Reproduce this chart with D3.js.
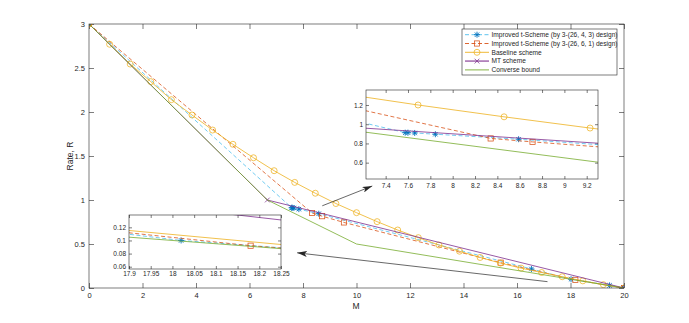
<!DOCTYPE html>
<html>
<head>
<meta charset="utf-8">
<script src="https://cdn.jsdelivr.net/npm/d3@7"></script>
<style>
  body { margin: 0; background: #fff; }
  text { font-family: "Liberation Sans", Arial, sans-serif; fill: #262626; }
</style>
</head>
<body>
<svg id="chart" width="689" height="323"></svg>
<script>
// ---- data ----
const blueM = [0, 7.575, 7.60, 7.66, 7.845, 8.59, 16.54, 18.02, 19.46, 20];
const blueR = [3, 0.912, 0.912, 0.909, 0.896, 0.844, 0.216, 0.100, 0.030, 0];

const orangeM = [0, 8.34, 8.715, 9.53, 15.39, 18.18, 20];
const orangeR = [3, 0.852, 0.816, 0.745, 0.288, 0.092, 0];

const baseM = [0, 0.77, 1.54, 2.31, 3.08, 3.85, 4.62, 5.38, 6.15, 6.92, 7.69, 8.46, 9.23,
               10.0, 10.77, 11.54, 12.31, 13.08, 13.85, 14.62, 15.38, 16.15, 16.92, 17.69,
               18.46, 19.23, 20];
const baseR = [3, 2.77, 2.545, 2.345, 2.14, 1.966, 1.795, 1.633, 1.48, 1.333, 1.20, 1.077, 0.960,
               0.856, 0.754, 0.659, 0.572, 0.489, 0.418, 0.347, 0.283, 0.226, 0.176, 0.128,
               0.081, 0.038, 0];

const mtM = [0, 6.667, 20];
const mtR = [3, 1, 0];

const boundM = [0, 6.667, 10, 20];
const boundR = [3, 1, 0.5, 0];

const legendLabels = [
  "Improved t-Scheme (by 3-(26, 4, 3) design)",
  "Improved t-Scheme (by 3-(26, 6, 1) design)",
  "Baseline scheme",
  "MT scheme",
  "Converse bound"
];

const mainXTicks = [0, 2, 4, 6, 8, 10, 12, 14, 16, 18, 20];
const mainYTicks = [0, 0.5, 1, 1.5, 2, 2.5, 3];
const zoom1XTicks = [7.4, 7.6, 7.8, 8, 8.2, 8.4, 8.6, 8.8, 9, 9.2];
const zoom1YTicks = [0.6, 0.8, 1, 1.2];
const zoom2XTicks = [17.9, 17.95, 18, 18.05, 18.1, 18.15, 18.2, 18.25];
const zoom2YTicks = [0.06, 0.08, 0.1, 0.12];

// arrows, in main-axes data units: [fromM, fromR, toM, toR]
const arrows = [
  [8.72, 0.934, 10.59, 1.159],
  [17.14, 0.072, 7.78, 0.400]
];

// ---- styles ----
const series = [
  {M: blueM, R: blueR, color: "#0072BD", line: "#4DBEEE", dash: "4,2.5", marker: "star"},
  {M: orangeM, R: orangeR, color: "#D95319", line: "#D95319", dash: "4,2.5", marker: "square"},
  {M: baseM, R: baseR, color: "#EDB120", line: "#EDB120", dash: null, marker: "circle"},
  {M: mtM, R: mtR, color: "#7E2F8E", line: "#7E2F8E", dash: null, marker: "x"},
  {M: boundM, R: boundR, color: "#77AC30", line: "#77AC30", dash: null, marker: null}
];

const svg = d3.select("#chart");
svg.append("rect").attr("width", 689).attr("height", 323).attr("fill", "#fff");

const defs = svg.append("defs");
defs.append("marker")
    .attr("id", "arrowhead")
    .attr("viewBox", "0 0 10 6")
    .attr("refX", 10).attr("refY", 3)
    .attr("markerWidth", 10).attr("markerHeight", 6)
    .attr("markerUnits", "userSpaceOnUse")
    .attr("orient", "auto")
  .append("path")
    .attr("d", "M0,0L10,3L0,6L2.5,3Z")
    .attr("fill", "#262626");

function drawMarker(g, type, color, px, py) {
  if (type === "star") {
    g.append("path")
      .attr("d", `M${px-3},${py}H${px+3}M${px},${py-3}V${py+3}` +
                 `M${px-2.2},${py-2.2}L${px+2.2},${py+2.2}M${px-2.2},${py+2.2}L${px+2.2},${py-2.2}`)
      .attr("stroke", color).attr("stroke-width", 0.9).attr("fill", "none");
  } else if (type === "square") {
    g.append("rect").attr("x", px - 2.6).attr("y", py - 2.6)
      .attr("width", 5.2).attr("height", 5.2)
      .attr("fill", "none").attr("stroke", color).attr("stroke-width", 0.75);
  } else if (type === "circle") {
    g.append("circle").attr("cx", px).attr("cy", py).attr("r", 3)
      .attr("fill", "none").attr("stroke", color).attr("stroke-width", 0.75);
  } else if (type === "x") {
    g.append("path")
      .attr("d", `M${px-2.4},${py-2.4}L${px+2.4},${py+2.4}M${px-2.4},${py+2.4}L${px+2.4},${py-2.4}`)
      .attr("stroke", color).attr("stroke-width", 0.75);
  }
}

function drawPanel(opt) {
  const {box, xDomain, yDomain, xTicks, yTicks, fontSize, tickLen, xPad, yPad, id} = opt;
  const x = d3.scaleLinear().domain(xDomain).range([box.left, box.right]);
  const y = d3.scaleLinear().domain(yDomain).range([box.bottom, box.top]);
  const g = svg.append("g").attr("class", id);

  g.append("rect")
    .attr("x", box.left).attr("y", box.top)
    .attr("width", box.right - box.left).attr("height", box.bottom - box.top)
    .attr("fill", "#fff");

  defs.append("clipPath").attr("id", "clip-" + id)
    .append("rect")
    .attr("x", box.left).attr("y", box.top)
    .attr("width", box.right - box.left).attr("height", box.bottom - box.top);

  const fmt = d => String(+d.toFixed(3));

  const axes = [
    [d3.axisBottom(x).tickValues(xTicks).tickFormat(fmt).tickPadding(xPad), `translate(0,${box.bottom})`],
    [d3.axisTop(x).tickValues(xTicks).tickFormat(""), `translate(0,${box.top})`],
    [d3.axisLeft(y).tickValues(yTicks).tickFormat(fmt).tickPadding(yPad), `translate(${box.left},0)`],
    [d3.axisRight(y).tickValues(yTicks).tickFormat(""), `translate(${box.right},0)`]
  ];
  axes.forEach(([ax, tr]) => {
    const a = g.append("g").attr("transform", tr)
      .call(ax.tickSizeInner(-tickLen).tickSizeOuter(0));
    a.select(".domain").remove();
    a.selectAll(".tick line").attr("stroke", "#262626").attr("stroke-width", 0.6);
    a.selectAll("text").attr("font-size", fontSize).attr("fill", "#262626")
      .attr("font-family", "Liberation Sans, Arial, sans-serif");
  });

  const plot = g.append("g").attr("clip-path", `url(#clip-${id})`);
  const line = d3.line().x(d => x(d[0])).y(d => y(d[1]));
  series.forEach(s => {
    const pts = s.M.map((m, i) => [m, s.R[i]]);
    plot.append("path")
      .attr("d", line(pts))
      .attr("fill", "none")
      .attr("stroke", s.line)
      .attr("stroke-width", 0.8)
      .attr("stroke-dasharray", s.dash);
    if (s.marker) {
      pts.forEach(p => drawMarker(plot, s.marker, s.color, x(p[0]), y(p[1])));
    }
  });

  g.append("rect")
    .attr("x", box.left).attr("y", box.top)
    .attr("width", box.right - box.left).attr("height", box.bottom - box.top)
    .attr("fill", "none").attr("stroke", "#262626").attr("stroke-width", 0.6);

  return {x, y, g};
}

// main axes
const mainAx = drawPanel({
  box: {left: 89, right: 624, top: 24, bottom: 288},
  xDomain: [0, 20], yDomain: [0, 3],
  xTicks: mainXTicks, yTicks: mainYTicks,
  fontSize: 7.5, tickLen: 5, xPad: 5, yPad: 4, id: "main"
});

svg.append("text")
  .attr("x", 356).attr("y", 309)
  .attr("text-anchor", "middle")
  .attr("font-size", 8.5)
  .text("M");

svg.append("text")
  .attr("transform", "translate(73,156) rotate(-90)")
  .attr("text-anchor", "middle")
  .attr("font-size", 8.5)
  .text("Rate, R");

// arrows
arrows.forEach(a => {
  svg.append("line")
    .attr("x1", mainAx.x(a[0])).attr("y1", mainAx.y(a[1]))
    .attr("x2", mainAx.x(a[2])).attr("y2", mainAx.y(a[3]))
    .attr("stroke", "#262626").attr("stroke-width", 0.7)
    .attr("marker-end", "url(#arrowhead)");
});

// zoomed insets
drawPanel({
  box: {left: 366, right: 598, top: 90, bottom: 179},
  xDomain: [7.224, 9.301], yDomain: [0.43, 1.356],
  xTicks: zoom1XTicks, yTicks: zoom1YTicks,
  fontSize: 6.5, tickLen: 3, xPad: 4, yPad: 3, id: "zoom1"
});

drawPanel({
  box: {left: 129, right: 281, top: 215, bottom: 269},
  xDomain: [17.9, 18.25], yDomain: [0.0565, 0.1388],
  xTicks: zoom2XTicks, yTicks: zoom2YTicks,
  fontSize: 6.5, tickLen: 3, xPad: 2, yPad: 3, id: "zoom2"
});

// legend
const leg = svg.append("g");
leg.append("rect")
  .attr("x", 462).attr("y", 29).attr("width", 155).attr("height", 46)
  .attr("fill", "#fff").attr("stroke", "#262626").attr("stroke-width", 0.6);
legendLabels.forEach((label, i) => {
  const s = series[i];
  const ly = 34.7 + i * 8.8;
  leg.append("line")
    .attr("x1", 465).attr("x2", 489).attr("y1", ly).attr("y2", ly)
    .attr("stroke", s.line).attr("stroke-width", i === 3 ? 1.8 : 0.9)
    .attr("stroke-opacity", i === 3 ? 0.6 : 1)
    .attr("stroke-dasharray", s.dash);
  if (s.marker) drawMarker(leg, s.marker, s.color, 477, ly);
  leg.append("text")
    .attr("x", 491.5).attr("y", ly)
    .attr("dy", "0.35em")
    .attr("font-size", 6.6)
    .text(label);
});
</script>
</body>
</html>
